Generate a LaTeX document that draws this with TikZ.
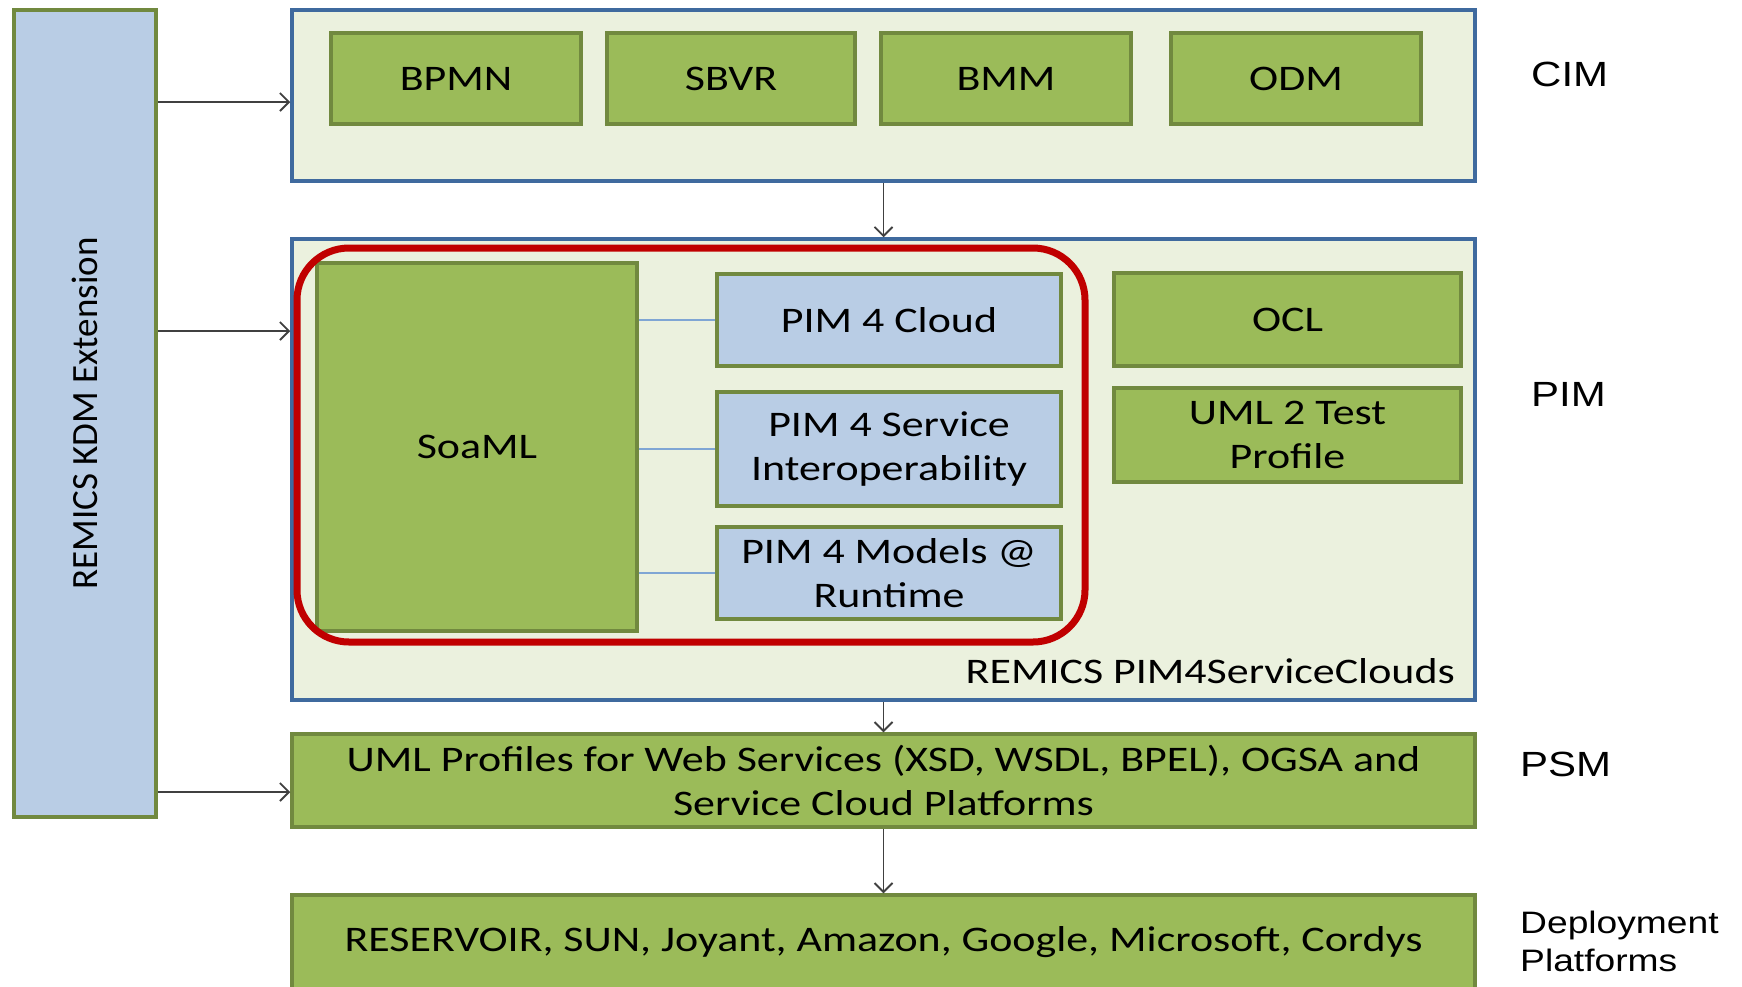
\documentclass[tikz,border=0pt]{standalone}
\usepackage{fontspec}
\setmainfont[FakeStretch=1.22]{Carlito}
\newfontfamily\uprightfont{Carlito}
\newfontfamily\labelfont[FakeStretch=1.2]{Liberation Sans}
\usetikzlibrary{arrows.meta}

\definecolor{boxgreen}{HTML}{9BBB59}
\definecolor{boxgreenline}{HTML}{71893F}
\definecolor{boxblue}{HTML}{B9CDE5}
\definecolor{panelfill}{HTML}{EBF1DE}
\definecolor{panelline}{HTML}{3F6A9E}
\definecolor{linkblue}{HTML}{7FA6D4}
\definecolor{focusred}{HTML}{C00000}
\definecolor{arrowgray}{HTML}{404040}

\tikzset{
  greenbox/.style={draw=boxgreenline, fill=boxgreen, line width=3.5pt, inner sep=0pt,
    align=center, font=\fontsize{36}{44}\selectfont},
  bluebox/.style={draw=boxgreenline, fill=boxblue, line width=3.5pt, inner sep=0pt,
    align=center, font=\fontsize{36}{44}\selectfont},
  panel/.style={draw=panelline, fill=panelfill, line width=3.5pt, inner sep=0pt},
  flow/.style={draw=arrowgray, line width=1.8pt, -{Straight Barb[length=9pt,width=18pt,line width=1.8pt]}},
  link/.style={draw=linkblue, line width=1.8pt},
  level/.style={font=\labelfont\fontsize{35}{40}\selectfont, anchor=west, inner sep=0pt, align=left}
}

\begin{document}
\begin{tikzpicture}[x=1pt, y=-1pt]
  \useasboundingbox (0,0) rectangle (1742,986);
  \clip (0,0) rectangle (1742,986);

  % KDM extension column
  \node[bluebox, minimum width=142, minimum height=807] (kdm) at (85,413.5)
    {\rotatebox{90}{\uprightfont\fontsize{37}{44}\selectfont REMICS KDM Extension}};

  % CIM layer
  \node[panel, minimum width=1183, minimum height=171] (cim) at (883.5,95.5) {};
  \node[greenbox, minimum width=250, minimum height=91] (bpmn) at (456,78.5) {BPMN};
  \node[greenbox, minimum width=248, minimum height=91] (sbvr) at (731,78.5) {SBVR};
  \node[greenbox, minimum width=250, minimum height=91] (bmm) at (1006,78.5) {BMM};
  \node[greenbox, minimum width=250, minimum height=91] (odm) at (1296,78.5) {ODM};

  % PIM layer
  \node[panel, minimum width=1183, minimum height=461] (pim) at (883.5,469.5) {};
  \node[greenbox, minimum width=320, minimum height=368] (soaml) at (477,447) {SoaML};
  \node[bluebox, minimum width=344, minimum height=92] (p4c) at (889,320) {PIM 4 Cloud};
  \node[bluebox, minimum width=344, minimum height=114] (p4s) at (889,449)
    {PIM 4 Service\\Interoperability};
  \node[bluebox, minimum width=344, minimum height=92] (p4m) at (889,573)
    {PIM 4 Models @\\Runtime};
  \node[greenbox, minimum width=347, minimum height=93] (ocl) at (1287.5,319.5) {OCL};
  \node[greenbox, minimum width=347, minimum height=94] (uml2) at (1287.5,435)
    {UML 2 Test\\Profile};
  \node[anchor=base east, inner sep=0pt, font=\fontsize{36}{44}\selectfont] (pimname)
    at (1455,683) {REMICS PIM4ServiceClouds};

  \draw[link] (soaml.east |- p4c.west) -- (p4c.west);
  \draw[link] (soaml.east |- p4s.west) -- (p4s.west);
  \draw[link] (soaml.east |- p4m.west) -- (p4m.west);

  % highlighted group
  \draw[focusred, line width=7pt, rounded corners=52pt] (297,248) rectangle (1085,642);

  % PSM layer
  \node[greenbox, minimum width=1183, minimum height=93] (psm) at (883.5,780.5)
    {UML Profiles for Web Services (XSD, WSDL, BPEL), OGSA and\\Service Cloud Platforms};

  % deployment layer
  \node[greenbox, minimum width=1183, minimum height=94] (dep) at (883.5,942)
    {RESERVOIR, SUN, Joyant, Amazon, Google, Microsoft, Cordys};

  % layer names
  \node[level] (lcim) at (1531,74) {CIM};
  \node[level] (lpim) at (1531,394) {PIM};
  \node[level] (lpsm) at (1520,764) {PSM};
  \node[level, font=\labelfont\fontsize{31}{38}\selectfont] (ldep) at (1520,941)
    {Deployment\\Platforms};

  % transformations between layers
  \draw[flow] (cim.south) -- (pim.north);
  \draw[flow] (pim.south) -- (psm.north);
  \draw[flow] (psm.south) -- (dep.north);

  % KDM extension feeding the layers
  \draw[flow] (kdm.east |- 0,102) -- (cim.west |- 0,102);
  \draw[flow] (kdm.east |- 0,331) -- (pim.west |- 0,331);
  \draw[flow] (kdm.east |- 0,792) -- (psm.west |- 0,792);
\end{tikzpicture}
\end{document}
